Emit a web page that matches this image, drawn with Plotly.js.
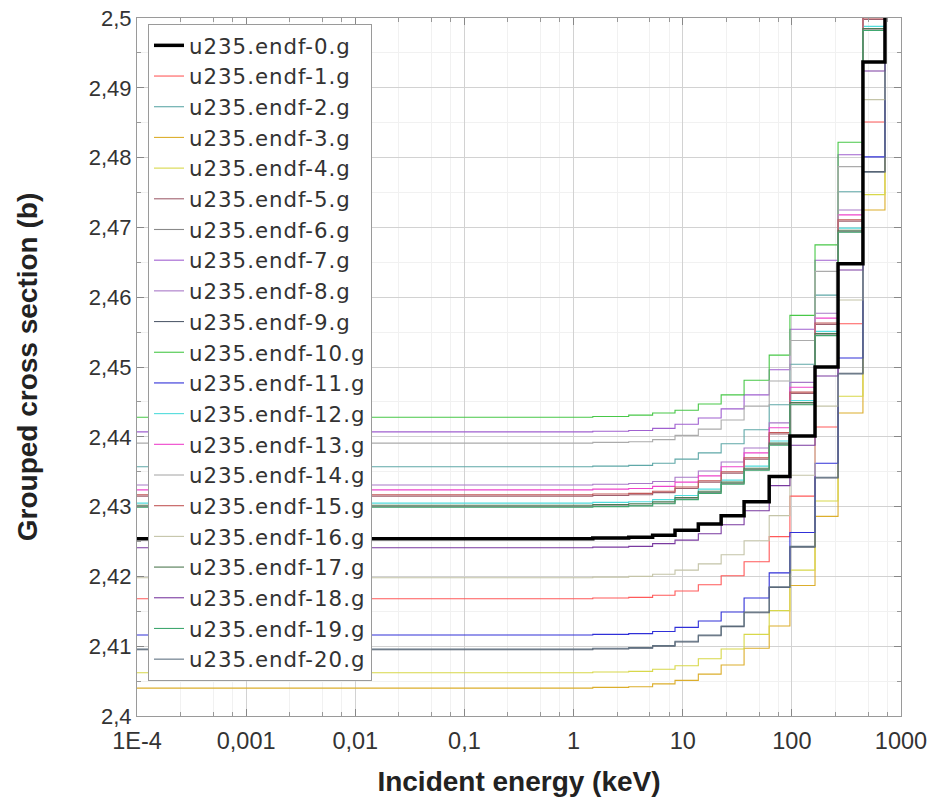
<!DOCTYPE html>
<html>
<head>
<meta charset="utf-8">
<script src="https://cdn.plot.ly/plotly-3.0.1.min.js"></script>
<style>
  html, body { margin: 0; padding: 0; background: #ffffff; }
  #chart { width: 927px; height: 801px; }
  .legendtext { letter-spacing: 1px; }
</style>
</head>
<body>
<div id="chart"></div>
<script>
// Group boundaries (keV)
const edgesKeV = [1e-4, 1.5, 3.2, 5.3, 8.5, 13.9, 22.5, 36.5, 62, 96, 163, 265, 448, 713, 1000];

// Grouped cross sections (b), one value per group
const s0  = [2.4254, 2.4255, 2.4256, 2.4259, 2.4266, 2.4275, 2.4287, 2.4307, 2.4343, 2.4401, 2.4500, 2.4648, 2.4937, 2.5254];
const s1  = [2.4168, 2.4169, 2.4170, 2.4173, 2.4179, 2.4188, 2.4201, 2.4221, 2.4257, 2.4315, 2.4414, 2.4562, 2.4851, 2.5168];
const s2  = [2.4357, 2.4358, 2.4359, 2.4362, 2.4368, 2.4377, 2.4390, 2.4410, 2.4446, 2.4504, 2.4603, 2.4751, 2.5040, 2.5357];
const s3  = [2.4040, 2.4041, 2.4042, 2.4046, 2.4051, 2.4060, 2.4073, 2.4097, 2.4129, 2.4187, 2.4286, 2.4434, 2.4725, 2.5040];
const s4  = [2.4062, 2.4063, 2.4064, 2.4067, 2.4072, 2.4082, 2.4096, 2.4117, 2.4151, 2.4209, 2.4308, 2.4458, 2.4747, 2.5062];
const s5  = [2.4315, 2.4316, 2.4317, 2.4320, 2.4326, 2.4335, 2.4348, 2.4368, 2.4404, 2.4462, 2.4561, 2.4709, 2.4998, 2.5315];
const s6  = [2.4300, 2.4301, 2.4302, 2.4305, 2.4311, 2.4320, 2.4333, 2.4353, 2.4389, 2.4447, 2.4546, 2.4694, 2.4983, 2.5300];
const s7  = [2.4407, 2.4408, 2.4409, 2.4412, 2.4418, 2.4427, 2.4440, 2.4460, 2.4496, 2.4554, 2.4653, 2.4804, 2.5090, 2.5407];
const s8  = [2.4331, 2.4332, 2.4333, 2.4336, 2.4342, 2.4351, 2.4364, 2.4384, 2.4420, 2.4478, 2.4577, 2.4725, 2.5014, 2.5331];
const s9  = [2.4095, 2.4096, 2.4097, 2.4100, 2.4106, 2.4115, 2.4128, 2.4148, 2.4184, 2.4242, 2.4341, 2.4491, 2.4780, 2.5095];
const s10 = [2.4428, 2.4429, 2.4431, 2.4434, 2.4438, 2.4447, 2.4460, 2.4481, 2.4517, 2.4574, 2.4675, 2.4822, 2.5111, 2.5428];
const s11 = [2.4116, 2.4117, 2.4118, 2.4121, 2.4127, 2.4136, 2.4149, 2.4169, 2.4205, 2.4263, 2.4362, 2.4513, 2.4801, 2.5116];
const s12 = [2.4305, 2.4306, 2.4307, 2.4310, 2.4316, 2.4325, 2.4338, 2.4358, 2.4394, 2.4452, 2.4551, 2.4699, 2.4988, 2.5305];
const s13 = [2.4324, 2.4325, 2.4326, 2.4329, 2.4335, 2.4344, 2.4357, 2.4377, 2.4413, 2.4471, 2.4570, 2.4718, 2.5007, 2.5324];
const s14 = [2.4391, 2.4392, 2.4393, 2.4396, 2.4402, 2.4411, 2.4424, 2.4444, 2.4480, 2.4538, 2.4637, 2.4787, 2.5074, 2.5391];
const s15 = [2.4317, 2.4318, 2.4319, 2.4322, 2.4328, 2.4337, 2.4350, 2.4370, 2.4406, 2.4464, 2.4563, 2.4711, 2.5000, 2.5317];
const s16 = [2.4198, 2.4199, 2.4200, 2.4203, 2.4209, 2.4218, 2.4231, 2.4251, 2.4287, 2.4345, 2.4444, 2.4596, 2.4883, 2.5198];
const s17 = [2.4302, 2.4303, 2.4304, 2.4307, 2.4313, 2.4322, 2.4335, 2.4355, 2.4391, 2.4449, 2.4548, 2.4696, 2.4985, 2.5302];
const s18 = [2.4241, 2.4242, 2.4243, 2.4247, 2.4252, 2.4261, 2.4274, 2.4294, 2.4330, 2.4388, 2.4487, 2.4639, 2.4924, 2.5241];
const s19 = [2.4299, 2.4300, 2.4301, 2.4304, 2.4310, 2.4319, 2.4332, 2.4352, 2.4388, 2.4446, 2.4545, 2.4693, 2.4982, 2.5299];
const s20 = [2.4096, 2.4097, 2.4098, 2.4101, 2.4107, 2.4116, 2.4129, 2.4149, 2.4185, 2.4243, 2.4342, 2.4490, 2.4779, 2.5096];

const seriesValues = [s0, s1, s2, s3, s4, s5, s6, s7, s8, s9, s10, s11, s12, s13, s14, s15, s16, s17, s18, s19, s20];
const seriesNames = [
  'u235.endf-0.g', 'u235.endf-1.g', 'u235.endf-2.g', 'u235.endf-3.g', 'u235.endf-4.g',
  'u235.endf-5.g', 'u235.endf-6.g', 'u235.endf-7.g', 'u235.endf-8.g', 'u235.endf-9.g',
  'u235.endf-10.g', 'u235.endf-11.g', 'u235.endf-12.g', 'u235.endf-13.g', 'u235.endf-14.g',
  'u235.endf-15.g', 'u235.endf-16.g', 'u235.endf-17.g', 'u235.endf-18.g', 'u235.endf-19.g',
  'u235.endf-20.g'
];
const seriesColors = [
  '#000000', '#ff5a5a', '#5fa8a8', '#dcae2c', '#d8d84a',
  '#a0606e', '#8a8a8a', '#a060d0', '#a878c8', '#566070',
  '#48c848', '#3030d8', '#50dcdc', '#ee44cc', '#ababab',
  '#c25858', '#c4c4a8', '#4f7a52', '#7a3aa0', '#40a870',
  '#607282'
];

const xTickVals = [1e-4, 1e-3, 1e-2, 1e-1, 1, 10, 100, 1000];
const xTickText = ['1E-4', '0,001', '0,01', '0,1', '1', '10', '100', '1000'];
const yTickVals = [2.40, 2.41, 2.42, 2.43, 2.44, 2.45, 2.46, 2.47, 2.48, 2.49, 2.50];
const yTickText = ['2,4', '2,41', '2,42', '2,43', '2,44', '2,45', '2,46', '2,47', '2,48', '2,49', '2,5'];

// minor tick positions: 2.5, 5, 7.5 per decade
const xMinorVals = [];
for (let d = -4; d < 3; d++) {
  [2.5, 5, 7.5].forEach(m => xMinorVals.push(m * Math.pow(10, d)));
}

const traces = [];
// draw coloured series first, black (0) last so it sits on top
const order = [];
for (let i = 1; i < seriesValues.length; i++) order.push(i);
order.push(0);
order.forEach(i => {
  const v = seriesValues[i];
  traces.push({
    type: 'scatter',
    mode: 'lines',
    x: edgesKeV,
    y: v.concat([v[v.length - 1]]),
    name: seriesNames[i],
    legendrank: i + 1,
    line: { shape: 'hv', color: seriesColors[i], width: i === 0 ? 3.5 : 1.1 },
    hoverinfo: 'skip'
  });
});

const xTickFont = { family: 'Liberation Sans, Arial, sans-serif', size: 23.5, color: '#333333' };
const yTickFont = { family: 'Liberation Sans, Arial, sans-serif', size: 22, color: '#333333' };
const titleFont = { family: 'Liberation Sans, Arial, sans-serif', size: 28, color: '#222222' };

const layout = {
  width: 927,
  height: 801,
  margin: { l: 137, r: 26, t: 18, b: 85 },
  paper_bgcolor: '#ffffff',
  plot_bgcolor: '#ffffff',
  separators: ', ',
  showlegend: true,
  legend: {
    x: 0.0144, y: 0.9914, xanchor: 'left', yanchor: 'top',
    bgcolor: '#ffffff', bordercolor: '#9a9a9a', borderwidth: 1,
    font: { family: 'DejaVu Sans, sans-serif', size: 21.3, color: '#333333' },
    traceorder: 'normal'
  },
  xaxis: {
    type: 'log',
    range: [-4, 3],
    tickmode: 'array',
    tickvals: xTickVals,
    ticktext: xTickText,
    ticks: 'inside', ticklen: 7, tickcolor: '#888888', tickwidth: 1,
    ticklabelstandoff: 4,
    ticklabeloverflow: 'allow',
    showline: true, linecolor: '#9a9a9a', linewidth: 1, mirror: 'allticks',
    showgrid: true, gridcolor: '#d2d2d2', gridwidth: 1,
    zeroline: false,
    tickfont: xTickFont,
    minor: { tickmode: 'array', tickvals: xMinorVals, ticks: 'inside', ticklen: 4, tickcolor: '#999999', showgrid: true, gridcolor: '#f1f1f1' },
    title: { text: '<b>Incident energy (keV)</b>', font: titleFont, standoff: 18 },
    automargin: false,
    fixedrange: true
  },
  yaxis: {
    range: [2.4, 2.5],
    tickmode: 'array',
    tickvals: yTickVals,
    ticktext: yTickText,
    ticks: 'inside', ticklen: 7, tickcolor: '#888888', tickwidth: 1,
    ticklabeloverflow: 'allow',
    showline: true, linecolor: '#9a9a9a', linewidth: 1, mirror: 'allticks',
    showgrid: true, gridcolor: '#d2d2d2', gridwidth: 1,
    zeroline: false,
    tickfont: yTickFont,
    minor: { dtick: 0.005, ticks: 'inside', ticklen: 4, tickcolor: '#999999', showgrid: true, gridcolor: '#f1f1f1' },
    title: { text: '<b>Grouped cross section (b)</b>', font: titleFont, standoff: 42 },
    automargin: false,
    fixedrange: true
  },
  hovermode: false
};

Plotly.newPlot('chart', traces, layout, { displayModeBar: false, staticPlot: true });
</script>
</body>
</html>
